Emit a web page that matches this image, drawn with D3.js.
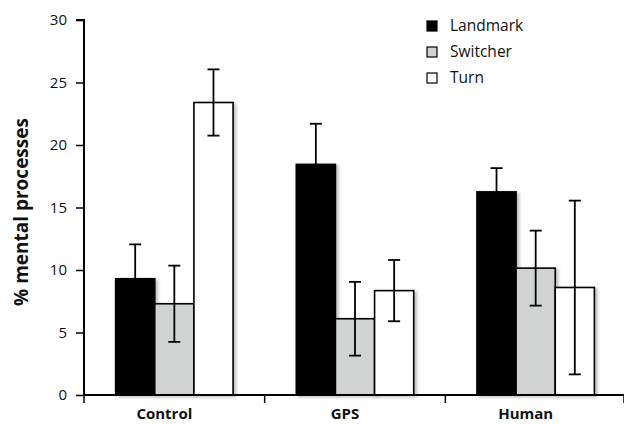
<!DOCTYPE html>
<html><head><meta charset="utf-8">
<script src="https://cdn.jsdelivr.net/npm/d3@7"></script>
<style>body{margin:0;background:#fff}svg{display:block}text{font-family:"Open Sans",Lato,sans-serif}</style>
</head><body><svg id="c" width="624" height="424"></svg>
<script>
const categories = ["Control", "GPS", "Human"];
const seriesNames = ["Landmark", "Switcher", "Turn"];
const landmark = [9.3, 18.45, 16.25];
const switcher = [7.3, 6.1, 10.15];
const turn = [23.4, 8.35, 8.6];
const landmarkErr = [2.75, 3.25, 1.9];
const switcherErr = [3.05, 2.95, 3.0];
const turnErr = [2.65, 2.45, 6.95];
const yTicks = [0, 5, 10, 15, 20, 25, 30];
const colors = ["#000000", "#d1d3d2", "#ffffff"];

const values = [landmark, switcher, turn];
const errs = [landmarkErr, switcherErr, turnErr];
const rows = [];
categories.forEach((c, i) => seriesNames.forEach((s, j) => rows.push({c, s, v: values[j][i], e: errs[j][i]})));

const svg = d3.select("#c");
const defs = svg.append("defs");
const f = defs.append("filter").attr("id","sh").attr("x","-20%").attr("y","-20%").attr("width","150%").attr("height","150%");
f.append("feDropShadow").attr("dx",2.5).attr("dy",1.5).attr("stdDeviation",1.5).attr("flood-color","#000").attr("flood-opacity",0.25);

const mLeft = 84, mRight = 626, mTop = 20, mBottom = 395;
const y = d3.scaleLinear().domain([0, 30]).range([mBottom, mTop]);
const x0 = d3.scaleBand().domain(categories).range([mLeft, mRight]).paddingInner(0.35).paddingOuter(0.175);
const x1 = d3.scaleBand().domain(seriesNames).range([0, x0.bandwidth()]);
const color = d3.scaleOrdinal().domain(seriesNames).range(colors);

// bars
svg.append("g").selectAll("rect").data(rows).join("rect")
  .attr("x", d => x0(d.c) + x1(d.s))
  .attr("y", d => y(d.v))
  .attr("width", x1.bandwidth())
  .attr("height", d => y(0) - y(d.v))
  .attr("fill", d => color(d.s))
  .attr("stroke", "#000").attr("stroke-width", 1.6)
  .attr("filter", "url(#sh)");

// error bars
const eg = svg.append("g").attr("stroke", "#000").attr("stroke-width", 1.8);
rows.forEach(d => {
  const cx = x0(d.c) + x1(d.s) + x1.bandwidth() / 2;
  eg.append("line").attr("x1", cx).attr("x2", cx).attr("y1", y(d.v - d.e)).attr("y2", y(d.v + d.e));
  eg.append("line").attr("x1", cx - 6).attr("x2", cx + 6).attr("y1", y(d.v + d.e)).attr("y2", y(d.v + d.e));
  eg.append("line").attr("x1", cx - 6).attr("x2", cx + 6).attr("y1", y(d.v - d.e)).attr("y2", y(d.v - d.e));
});

// y axis
const ya = svg.append("g").attr("transform", `translate(${mLeft},0)`)
  .call(d3.axisLeft(y).tickValues(yTicks).tickSize(8).tickPadding(9));
ya.select(".domain").attr("stroke-width", 2).attr("d", `M-8,${y(30)}H0V${mBottom}`);
ya.selectAll(".tick line").attr("stroke-width", 1.5);
ya.selectAll("text").attr("font-size", 15).attr("fill", "#111").style("font-family", "'Open Sans',sans-serif");

// x axis
const xa = svg.append("g").attr("transform", `translate(0,${mBottom})`);
xa.append("line").attr("x1", mLeft).attr("x2", 624).attr("y1", 0).attr("y2", 0).attr("stroke", "#000").attr("stroke-width", 2);
const step = x0.step();
const bounds = [mLeft, mLeft + step, mLeft + 2 * step, mLeft + 3 * step - 2];
xa.selectAll("line.t").data(bounds).join("line").attr("class","t")
  .attr("x1", d => d).attr("x2", d => d).attr("y1", 0).attr("y2", 8).attr("stroke", "#000").attr("stroke-width", 1.5);
xa.selectAll("text").data(categories).join("text")
  .attr("x", d => x0(d) + x0.bandwidth() / 2 - 10).attr("y", 24)
  .attr("text-anchor", "middle").attr("font-size", 15).attr("font-weight", "bold").attr("fill", "#111")
  .text(d => d);

// y label
svg.append("text").attr("transform", `translate(28,212) rotate(-90)`)
  .attr("text-anchor", "middle").attr("font-size", 19).attr("font-weight", "bold").attr("fill", "#111")
  .text("% mental processes");

// legend
const lg = svg.append("g").attr("transform", "translate(427,26)");
seriesNames.forEach((s, i) => {
  const g = lg.append("g").attr("transform", `translate(0,${i * 26})`);
  g.append("rect").attr("x", 0).attr("y", -5).attr("width", 10).attr("height", 10)
    .attr("fill", colors[i]).attr("stroke", "#000").attr("stroke-width", 1.2);
  g.append("text").attr("x", 23).attr("y", 0).attr("dy", "0.35em").attr("font-size", 15.5).attr("fill", "#111").text(s);
});
</script></body></html>
